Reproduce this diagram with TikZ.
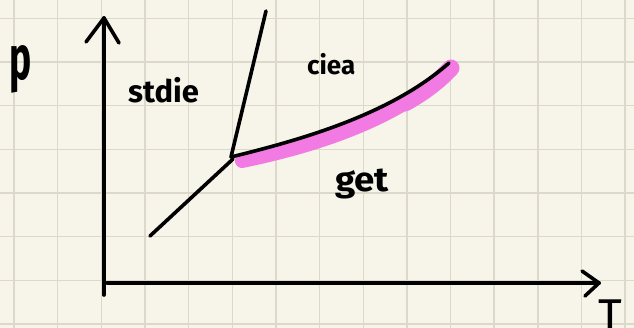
\documentclass[tikz,border=0pt]{standalone}
\usepackage{fontspec}
\setsansfont{Fira Sans}
\begin{document}
\definecolor{paper}{HTML}{F7F5E9}
\definecolor{gridc}{HTML}{DCD9CB}
\definecolor{hilite}{HTML}{F27BE3}
\begin{tikzpicture}[x=1pt,y=-1pt,
  ink/.style={line width=3.6pt,line cap=round,line join=round,black},
  hand/.style={font=\sffamily\bfseries,inner sep=0pt,anchor=base west}]
\fill[paper] (0,0) rectangle (634,328);
\useasboundingbox (0,0) rectangle (634,328);
\begin{scope}
\clip (0,0) rectangle (634,328);
\foreach \i in {0,...,14} \draw[gridc,line width=1.4pt] (14+43.65*\i,0) -- (14+43.65*\i,328);
\foreach \j in {0,...,7} \draw[gridc,line width=1.4pt] (0,18.3+43.7*\j) -- (634,18.3+43.7*\j);
\end{scope}
% coordinates
\coordinate (ybot) at (104,295);
\coordinate (ytop) at (104,18);
\coordinate (yl) at (86,42);
\coordinate (yr) at (119,43);
\coordinate (xl) at (107,283);
\coordinate (xr) at (599,283);
\coordinate (xa) at (582,271);
\coordinate (xb) at (585,296);
\coordinate (tp) at (231,157);
\coordinate (melt) at (266,11);
\coordinate (sub) at (150,236);
\coordinate (crit) at (449,63);
% highlighter
\begin{scope}
\clip (0,0) rectangle (634,328);
\draw[hilite,line width=14pt,line cap=round] (242,161) .. controls (305,148) and (390,124) .. (448,72);
\draw[hilite,line width=17pt,line cap=round] (405,103) .. controls (425,92) and (440,80) .. (451,68);
\end{scope}
% curves
\draw[ink] (tp) .. controls (300,140) and (390,115) .. (crit);
\draw[ink] (tp) -- (melt);
\draw[ink] (233,159) -- (sub);
% axes
\draw[ink] (ybot) -- (ytop);
\draw[ink] (yl) -- (ytop) -- (yr);
\draw[ink] (xl) -- (xr);
\draw[ink] (xa) -- (xr) -- (xb);
% labels
\node[hand,font=\sffamily\bfseries\fontsize{62}{62}\selectfont,xscale=0.6] (p) at (9,80) {p};
\node[hand,font=\sffamily\bfseries\fontsize{31}{31}\selectfont] (s) at (128,103) {stdie};
\node[hand,font=\sffamily\bfseries\fontsize{26}{26}\selectfont] (l) at (307,75) {ciea};
\node[hand,font=\sffamily\bfseries\fontsize{34}{34}\selectfont,xscale=1.08] (g) at (335,192) {get};
\node[hand,font=\sffamily\fontsize{46}{46}\selectfont] (T) at (598,331) {T};
\end{tikzpicture}
\end{document}
